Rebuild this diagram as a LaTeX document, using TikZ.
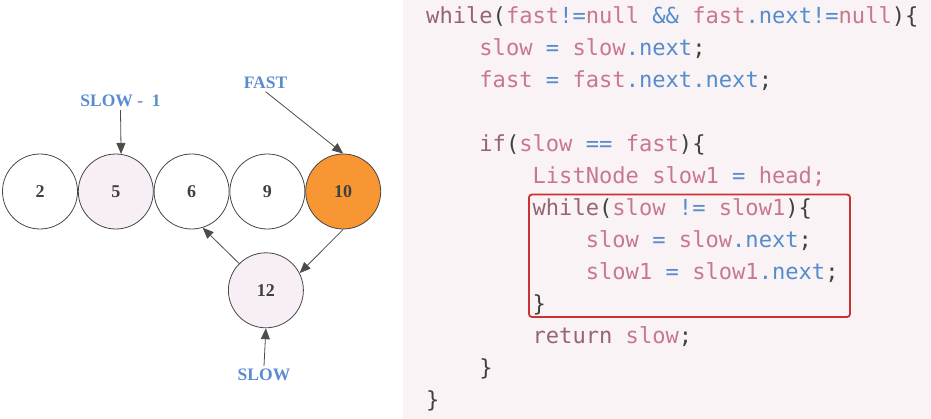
\documentclass[tikz,border=0pt]{standalone}
\usepackage{fontspec}
\setmainfont{Liberation Serif}
\newfontfamily\codefont{DejaVu Sans Mono}
\usetikzlibrary{positioning,arrows.meta}

\definecolor{codebg}{RGB}{250,243,246}
\definecolor{kwcol}{RGB}{150,100,115}
\definecolor{varcol}{RGB}{200,120,142}
\definecolor{opcol}{RGB}{85,140,205}
\definecolor{puncol}{RGB}{60,66,62}
\definecolor{boxred}{RGB}{200,50,50}
\definecolor{ptrblue}{RGB}{90,140,205}
\definecolor{ringgray}{RGB}{70,70,70}
\definecolor{visited}{RGB}{248,238,245}
\definecolor{fastorange}{RGB}{247,150,50}

\newcommand{\kw}[1]{\textcolor{kwcol}{#1}}
\newcommand{\vr}[1]{\textcolor{varcol}{#1}}
\newcommand{\op}[1]{\textcolor{opcol}{#1}}
\newcommand{\pn}[1]{\textcolor{puncol}{#1}}

\tikzset{
  listnode/.style={circle, draw=ringgray, line width=0.8pt, minimum size=75pt, inner sep=0pt,
    font=\fontsize{18}{20}\selectfont\bfseries, text=black!75},
  pointer/.style={font=\fontsize{17.5}{19}\selectfont\bfseries, text=ptrblue, inner sep=3pt},
  link/.style={draw=black!70, line width=0.8pt, -{Triangle[length=11pt,width=9pt]}},
  codeline/.style={anchor=base west, inner sep=0pt, font=\codefont\fontsize{22.1}{26}\selectfont}
}

\begin{document}
\begin{tikzpicture}[x=1pt,y=-1pt]
  \useasboundingbox (0,0) rectangle (931,419);
  \fill[codebg] (403,0) rectangle (931,419);

  % the list
  \node[listnode] (n2) at (40,191.5) {2};
  \node[listnode, fill=visited, right=0pt of n2] (n5) {5};
  \node[listnode, right=0pt of n5] (n6) {6};
  \node[listnode, right=0pt of n6] (n9) {9};
  \node[listnode, fill=fastorange, right=0pt of n9] (n10) {10};
  \node[listnode, fill=visited, below=23pt of n9, xshift=-1.5pt] (n12) {12};

  \node[pointer] (slowone) at (120.5,101) {SLOW - \ 1};
  \node[pointer] (fast) at (265.5,82.5) {FAST};
  \node[pointer] (slow) at (264,375) {SLOW};

  \draw[link] (slowone.south) -- (n5.82);
  \draw[link] (fast.south) -- (n10.north);
  \draw[link] (n10.south) -- (n12.27);
  \draw[link] (n12.north west) -- (n6.-73);
  \draw[link] (slow.north) -- (n12.south);

  % the code
  \node[codeline] (l1) at (426,23.5) {\kw{while}\pn{(}\vr{fast}\op{!=}\vr{null} \op{\&\&} \vr{fast}\op{.next!=}\vr{null}\pn{)\{}};
  \node[codeline] (l2) at (479.2,55.5) {\vr{slow} \op{=} \vr{slow}\op{.next}\pn{;}};
  \node[codeline] (l3) at (479.2,87.5) {\vr{fast} \op{=} \vr{fast}\op{.next.next}\pn{;}};
  \node[codeline] (l5) at (479.2,151.5) {\kw{if}\pn{(}\vr{slow} \op{==} \vr{fast}\pn{)\{}};
  \node[codeline] (l6) at (532.4,183.5) {\vr{ListNode slow1} \op{=} \vr{head;}};
  \node[codeline] (l7) at (532.4,215.5) {\kw{while}\pn{(}\vr{slow} \op{!=} \vr{slow1}\pn{)\{}};
  \node[codeline] (l8) at (585.6,247.5) {\vr{slow} \op{=} \vr{slow}\op{.next}\pn{;}};
  \node[codeline] (l9) at (585.6,279.5) {\vr{slow1} \op{=} \vr{slow1}\op{.next}\pn{;}};
  \node[codeline] (l10) at (532.4,311.5) {\pn{\}}};
  \node[codeline] (l11) at (532.4,343.5) {\kw{return} \vr{slow}\pn{;}};
  \node[codeline] (l12) at (479.2,375.5) {\pn{\}}};
  \node[codeline] (l13) at (426,407.5) {\pn{\}}};

  \draw[boxred, line width=1.8pt, rounded corners=3pt] (529,194.5) rectangle (850,317);
\end{tikzpicture}
\end{document}
